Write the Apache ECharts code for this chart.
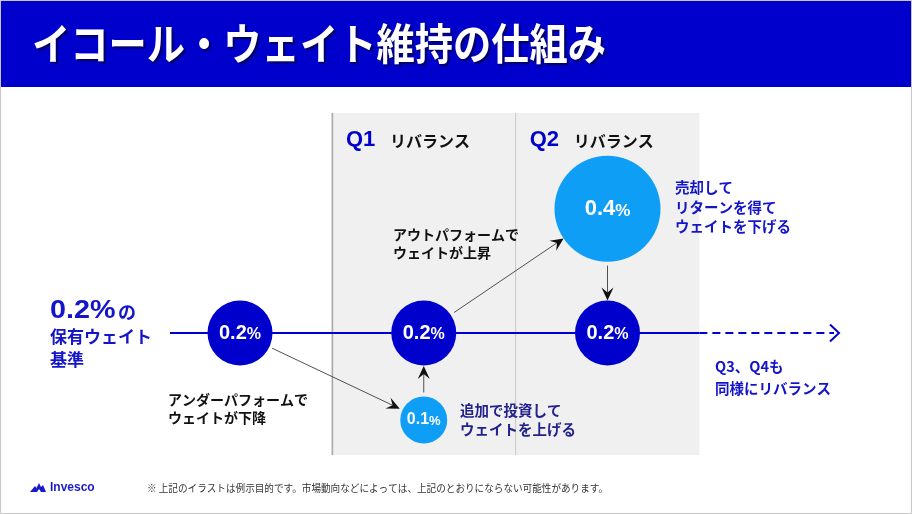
<!DOCTYPE html>
<html>
<head>
<meta charset="utf-8">
<script src="https://cdn.jsdelivr.net/npm/echarts@6/dist/echarts.min.js"></script>
<style>
html,body{margin:0;padding:0;background:#fff;}
#c{width:912px;height:514px;}
</style>
</head>
<body>
<div id="c"></div>
<script>
// ---------------- data ----------------
const BASE_WEIGHT = 0.2;                 // 保有ウェイト基準 (%)
const stages   = [0, 1, 1, 2, 2];        // 0 = 基準, 1 = Q1, 2 = Q2
const weights  = [0.2, 0.1, 0.2, 0.4, 0.2];
const scenario = [0, 0, 0, 1, 1];        // 0 = アンダーパフォーム経路, 1 = アウトパフォーム経路
const arrowFrom = [0, 1, 2, 3];
const arrowTo   = [1, 2, 3, 4];
const quarterNames  = ['Q1', 'Q2'];
const quarterLabel  = 'リバランス';
const titleText = 'イコール・ウェイト維持の仕組み';
const noteText  = '※ 上記のイラストは例示目的です。市場動向などによっては、上記のとおりにならない可能性があります。';

// ---------------- styles ----------------
const DARK = '#0000CC';
const LIGHT = '#0E9EF6';
const BLUE_TEXT = '#1414C8';
const NAVY_TEXT = '#22228A';
const JP = '"Noto Sans CJK JP", sans-serif';
const LAT = '"Liberation Sans", Arial, sans-serif';

function diameter(w) { return w < BASE_WEIGHT ? 47 : (w > BASE_WEIGHT ? 106 : 65); }
function fillOf(w) { return w === BASE_WEIGHT ? DARK : LIGHT; }
function sizeKey(w) { return w < BASE_WEIGHT ? 's' : (w > BASE_WEIGHT ? 'l' : 'm'); }

const chart = echarts.init(document.getElementById('c'), null, {renderer: 'canvas'});

function seriesFor(sc) {
  const data = [];
  stages.forEach((s, i) => {
    if (scenario[i] !== sc) return;
    data.push({
      value: [s, weights[i]],
      symbolSize: diameter(weights[i]),
      itemStyle: {color: fillOf(weights[i]), opacity: 1}
    });
  });
  return {
    type: 'scatter',
    yAxisIndex: sc,
    z: 5,
    symbol: 'circle',
    itemStyle: {opacity: 1},
    emphasis: {disabled: true},
    data: data,
    label: {
      show: true,
      position: 'inside',
      formatter: p => {
        const k = sizeKey(p.value[1]);
        return '{n' + k + '|' + p.value[1].toFixed(1) + '}{p' + k + '|%}';
      },
      rich: {
        ns: {fontFamily: LAT, fontWeight: 'bold', fontSize: 16, color: '#fff', verticalAlign: 'bottom'},
        ps: {fontFamily: LAT, fontWeight: 'bold', fontSize: 13, color: '#fff', verticalAlign: 'bottom'},
        nm: {fontFamily: LAT, fontWeight: 'bold', fontSize: 20, color: '#fff', verticalAlign: 'bottom'},
        pm: {fontFamily: LAT, fontWeight: 'bold', fontSize: 16, color: '#fff', verticalAlign: 'bottom'},
        nl: {fontFamily: LAT, fontWeight: 'bold', fontSize: 22, color: '#fff', verticalAlign: 'bottom'},
        pl: {fontFamily: LAT, fontWeight: 'bold', fontSize: 17, color: '#fff', verticalAlign: 'bottom'}
      }
    }
  };
}

chart.setOption({
  animation: false,
  grid: {left: 56.25, right: 120.75, top: -15, bottom: 7, outerBoundsMode: 'none', containLabel: false},
  xAxis: {type: 'value', min: -1, max: 3, show: false},
  yAxis: [
    {type: 'value', min: 0, max: 0.6, show: false},
    {type: 'value', min: -0.08, max: 0.76, show: false}
  ],
  series: [seriesFor(0), seriesFor(1)]
});

// ---------------- decorations computed through the axes ----------------
const pts = stages.map((s, i) => chart.convertToPixel({xAxisIndex: 0, yAxisIndex: scenario[i]}, [s, weights[i]]));
const xPix = s => chart.convertToPixel({xAxisIndex: 0}, s);
const baseY = chart.convertToPixel({yAxisIndex: 0}, BASE_WEIGHT);

const panelL = xPix(0.5), panelM = xPix(1.5), panelR = xPix(2.5);
const panelT = 113, panelB = 455;

const g = [];
// outer frame
g.push({type: 'rect', z: 0, shape: {x: 0.5, y: 0.5, width: 911, height: 513}, style: {fill: '#fff', stroke: '#C8C8C8', lineWidth: 1}});
// banner
g.push({type: 'rect', z: 1, shape: {x: 1, y: 1, width: 910, height: 86}, style: {fill: DARK}});
g.push({type: 'text', z: 2, x: 32, y: 44, scaleX: 0.89,
  style: {text: titleText, x: 0, y: 0, fill: '#fff', font: 'bold 43px ' + JP, textVerticalAlign: 'middle',
          textShadowColor: 'rgba(0,0,0,0.55)', textShadowOffsetX: 2, textShadowOffsetY: 2, textShadowBlur: 2}});
// panel
g.push({type: 'rect', z: 1, shape: {x: panelL, y: panelT, width: panelR - panelL, height: panelB - panelT}, style: {fill: '#F0F0F0'}});
g.push({type: 'line', z: 2, shape: {x1: panelL + 0.5, y1: panelT, x2: panelL + 0.5, y2: panelB}, style: {stroke: '#A8A8A8', lineWidth: 1.6}});
g.push({type: 'line', z: 2, shape: {x1: panelM, y1: panelT, x2: panelM, y2: panelB}, style: {stroke: '#C8C8C8', lineWidth: 1}});
// quarter headers
quarterNames.forEach((q, k) => {
  const x0 = (k === 0 ? panelL : panelM) + 14;
  g.push({type: 'text', z: 3, style: {text: q, x: x0, y: 140, fill: DARK, font: 'bold 22px ' + LAT, textVerticalAlign: 'middle'}});
  g.push({type: 'text', z: 3, style: {text: quarterLabel, x: x0 + 44, y: 141, fill: '#111', font: 'bold 16px ' + JP, textVerticalAlign: 'middle'}});
});
// timeline
g.push({type: 'line', z: 3, shape: {x1: 170, y1: baseY, x2: panelR, y2: baseY}, style: {stroke: DARK, lineWidth: 2}});
g.push({type: 'line', z: 3, shape: {x1: panelR, y1: baseY, x2: 834, y2: baseY}, style: {stroke: DARK, lineWidth: 2, lineDash: [8, 5]}});
g.push({type: 'polyline', z: 3, shape: {points: [[830, baseY - 8.5], [839, baseY], [830, baseY + 8.5]]}, style: {stroke: DARK, lineWidth: 2, fill: null}});

// arrows
const gaps = [[3, 3], [4, 0.5], [4, 0], [4, 0]];
arrowFrom.forEach((a, k) => {
  const b = arrowTo[k];
  const p1 = pts[a], p2 = pts[b];
  const r1 = diameter(weights[a]) / 2, r2 = diameter(weights[b]) / 2;
  const dx = p2[0] - p1[0], dy = p2[1] - p1[1];
  const len = Math.hypot(dx, dy);
  const ux = dx / len, uy = dy / len, nx = -uy, ny = ux;
  const sx = p1[0] + ux * (r1 + gaps[k][0]), sy = p1[1] + uy * (r1 + gaps[k][0]);
  const tx = p2[0] - ux * (r2 + gaps[k][1]), ty = p2[1] - uy * (r2 + gaps[k][1]);
  const hl = 13, hw = 6, notch = 8;
  g.push({type: 'line', z: 10, shape: {x1: sx, y1: sy, x2: tx - ux * notch, y2: ty - uy * notch}, style: {stroke: '#505050', lineWidth: 1}});
  g.push({type: 'polygon', z: 10, shape: {points: [
    [tx, ty],
    [tx - ux * hl + nx * hw, ty - uy * hl + ny * hw],
    [tx - ux * notch, ty - uy * notch],
    [tx - ux * hl - nx * hw, ty - uy * hl - ny * hw]
  ]}, style: {fill: '#111'}});
});

// annotations
function txt(t, x, y, color, font) {
  g.push({type: 'text', z: 11, style: {text: t, x: x, y: y, fill: color, font: font, textVerticalAlign: 'middle'}});
}
g.push({type: 'text', z: 11, x: 50, y: 311, scaleX: 1.15,
  style: {text: BASE_WEIGHT.toFixed(1) + '%', x: 0, y: 0, fill: BLUE_TEXT, font: 'bold 25px ' + LAT, textVerticalAlign: 'middle'}});
txt('の', 118, 312, BLUE_TEXT, 'bold 18px ' + JP);
txt('保有ウェイト', 50, 337, BLUE_TEXT, 'bold 17px ' + JP);
txt('基準', 50, 360, BLUE_TEXT, 'bold 17px ' + JP);

txt('アンダーパフォームで', 168, 400, '#111', 'bold 14px ' + JP);
txt('ウェイトが下降', 168, 418, '#111', 'bold 14px ' + JP);

txt('アウトパフォームで', 393, 235, '#111', 'bold 14px ' + JP);
txt('ウェイトが上昇', 393, 253, '#111', 'bold 14px ' + JP);

txt('売却して', 675, 187, BLUE_TEXT, 'bold 14.5px ' + JP);
txt('リターンを得て', 675, 207, BLUE_TEXT, 'bold 14.5px ' + JP);
txt('ウェイトを下げる', 675, 226, BLUE_TEXT, 'bold 14.5px ' + JP);

txt('追加で投資して', 460, 410, NAVY_TEXT, 'bold 14.5px ' + JP);
txt('ウェイトを上げる', 460, 429, NAVY_TEXT, 'bold 14.5px ' + JP);

txt('Q3、Q4も', 715, 366, BLUE_TEXT, 'bold 14.5px ' + JP);
txt('同様にリバランス', 715, 388, BLUE_TEXT, 'bold 14.5px ' + JP);

// footer
g.push({type: 'polygon', z: 11, shape: {points: [[30, 492], [35, 486], [36.5, 488], [39, 483], [41, 487], [43, 485], [46, 492], [41, 492], [39, 489], [37, 492]]}, style: {fill: '#1A1ACC'}});
txt('Invesco', 50, 488, '#1A1ACC', 'bold 12px ' + LAT);
g.push({type: 'text', z: 11, x: 147, y: 488, scaleX: 0.96,
  style: {text: noteText, x: 0, y: 0, fill: '#333', font: '10px ' + JP, textVerticalAlign: 'middle'}});

chart.setOption({graphic: {elements: g}});
</script>
</body>
</html>
